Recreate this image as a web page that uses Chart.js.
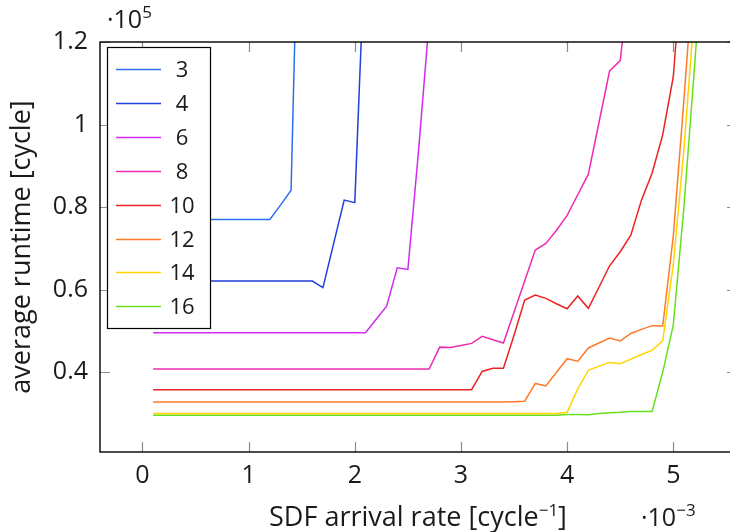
<!DOCTYPE html>
<html>
<head>
<meta charset="utf-8">
<title>Average runtime vs SDF arrival rate</title>
<script src="https://cdn.jsdelivr.net/npm/chart.js@4.4.1/dist/chart.umd.min.js"></script>
<style>
  html, body { margin: 0; padding: 0; background: #fff; overflow: hidden; }
  #wrap { width: 745px; height: 532px; }
</style>
</head>
<body>
<div id="wrap"><canvas id="runtimeChart" width="745" height="532"></canvas></div>
<script>
// SDF arrival rate, in 10^-3 per cycle (one sample every 0.1)
const rates = [
  0.1, 0.2, 0.3, 0.4, 0.5, 0.6, 0.7, 0.8, 0.9, 1.0,
  1.1, 1.2, 1.3, 1.4, 1.5, 1.6, 1.7, 1.8, 1.9, 2.0,
  2.1, 2.2, 2.3, 2.4, 2.5, 2.6, 2.7, 2.8, 2.9, 3.0,
  3.1, 3.2, 3.3, 3.4, 3.5, 3.6, 3.7, 3.8, 3.9, 4.0,
  4.1, 4.2, 4.3, 4.4, 4.5, 4.6, 4.7, 4.8, 4.9, 5.0,
  5.1, 5.2, 5.3
];

// legend labels
const widths = ['3', '4', '6', '8', '10', '12', '14', '16'];

// average runtime, in 10^5 cycles (each run stops once it leaves the top)
const runtime3 = [
  0.770, 0.770, 0.770, 0.770, 0.770, 0.770, 0.770, 0.770, 0.770, 0.770,
  0.770, 0.770, 0.805, 0.841, 1.900
];
const runtime4 = [
  0.621, 0.621, 0.621, 0.621, 0.621, 0.621, 0.621, 0.621, 0.621, 0.621,
  0.621, 0.621, 0.621, 0.621, 0.621, 0.621, 0.605, 0.711, 0.817, 0.811,
  1.460
];
const runtime6 = [
  0.496, 0.496, 0.496, 0.496, 0.496, 0.496, 0.496, 0.496, 0.496, 0.496,
  0.496, 0.496, 0.496, 0.496, 0.496, 0.496, 0.496, 0.496, 0.496, 0.496,
  0.496, 0.528, 0.560, 0.653, 0.649, 0.935, 1.250
];
const runtime8 = [
  0.408, 0.408, 0.408, 0.408, 0.408, 0.408, 0.408, 0.408, 0.408, 0.408,
  0.408, 0.408, 0.408, 0.408, 0.408, 0.408, 0.408, 0.408, 0.408, 0.408,
  0.408, 0.408, 0.408, 0.408, 0.408, 0.408, 0.408, 0.461, 0.460, 0.465,
  0.470, 0.487, 0.479, 0.471, 0.546, 0.621, 0.696, 0.712, 0.744, 0.780,
  0.830, 0.880, 1.005, 1.130, 1.155, 1.380
];
const runtime10 = [
  0.358, 0.358, 0.358, 0.358, 0.358, 0.358, 0.358, 0.358, 0.358, 0.358,
  0.358, 0.358, 0.358, 0.358, 0.358, 0.358, 0.358, 0.358, 0.358, 0.358,
  0.358, 0.358, 0.358, 0.358, 0.358, 0.358, 0.358, 0.358, 0.358, 0.358,
  0.358, 0.402, 0.410, 0.410, 0.490, 0.575, 0.587, 0.579, 0.566, 0.554,
  0.585, 0.555, 0.606, 0.658, 0.692, 0.732, 0.817, 0.882, 0.975, 1.116,
  1.450
];
const runtime12 = [
  0.328, 0.328, 0.328, 0.328, 0.328, 0.328, 0.328, 0.328, 0.328, 0.328,
  0.328, 0.328, 0.328, 0.328, 0.328, 0.328, 0.328, 0.328, 0.328, 0.328,
  0.328, 0.328, 0.328, 0.328, 0.328, 0.328, 0.328, 0.328, 0.328, 0.328,
  0.328, 0.328, 0.328, 0.328, 0.329, 0.330, 0.373, 0.367, 0.400, 0.433,
  0.427, 0.459, 0.471, 0.483, 0.476, 0.494, 0.504, 0.513, 0.512, 0.730,
  1.060, 1.410
];
const runtime14 = [
  0.300, 0.300, 0.300, 0.300, 0.300, 0.300, 0.300, 0.300, 0.300, 0.300,
  0.300, 0.300, 0.300, 0.300, 0.300, 0.300, 0.300, 0.300, 0.300, 0.300,
  0.300, 0.300, 0.300, 0.300, 0.300, 0.300, 0.300, 0.300, 0.300, 0.300,
  0.300, 0.300, 0.300, 0.300, 0.300, 0.300, 0.300, 0.300, 0.300, 0.303,
  0.360, 0.405, 0.415, 0.424, 0.421, 0.432, 0.443, 0.453, 0.476, 0.660,
  0.940, 1.280
];
const runtime16 = [
  0.296, 0.296, 0.296, 0.296, 0.296, 0.296, 0.296, 0.296, 0.296, 0.296,
  0.296, 0.296, 0.296, 0.296, 0.296, 0.296, 0.296, 0.296, 0.296, 0.296,
  0.296, 0.296, 0.296, 0.296, 0.296, 0.296, 0.296, 0.296, 0.296, 0.296,
  0.296, 0.296, 0.296, 0.296, 0.296, 0.296, 0.296, 0.296, 0.296, 0.298,
  0.298, 0.297, 0.300, 0.302, 0.303, 0.305, 0.305, 0.305, 0.400, 0.515,
  0.800, 1.140, 1.500
];

const xTicks = [0, 1, 2, 3, 4, 5];
const yTicks = [0.4, 0.6, 0.8, 1, 1.2];

const runtimes = [runtime3, runtime4, runtime6, runtime8, runtime10, runtime12, runtime14, runtime16];
const colors = ['#2a6ff0', '#2240dc', '#cf2cf0', '#ee2cb0', '#ec2222', '#ff7a2c', '#ffd500', '#66e01c'];

const FONT = '"Open Sans", "Noto Sans", sans-serif';
const TEXT = '#1a1a1a';

// frame, inward ticks, legend box, exponents and x title
const decorations = {
  id: 'decorations',
  afterDraw(chart) {
    const { ctx, chartArea: a, scales: { x, y } } = chart;
    ctx.save();

    ctx.strokeStyle = '#8c8c8c';
    ctx.lineWidth = 1.2;
    ctx.beginPath();
    xTicks.forEach(v => {
      const px = Math.round(x.getPixelForValue(v)) + 0.5;
      ctx.moveTo(px, a.bottom); ctx.lineTo(px, a.bottom - 10);
      ctx.moveTo(px, a.top); ctx.lineTo(px, a.top + 10);
    });
    yTicks.forEach(v => {
      const py = Math.round(y.getPixelForValue(v)) + 0.5;
      ctx.moveTo(a.left, py); ctx.lineTo(a.left + 10, py);
      ctx.moveTo(a.right, py); ctx.lineTo(a.right - 10, py);
    });
    ctx.stroke();

    ctx.strokeStyle = '#000';
    ctx.lineWidth = 1.4;
    ctx.strokeRect(a.left, a.top, a.right - a.left, a.bottom - a.top);

    // legend
    const lx = a.left + 7, ly = a.top + 5;
    ctx.fillStyle = '#fff';
    ctx.fillRect(lx, ly, 103, 281);
    ctx.strokeStyle = '#000';
    ctx.lineWidth = 1.2;
    ctx.strokeRect(lx + 0.5, ly + 0.5, 103, 281);
    ctx.font = '22px ' + FONT;
    ctx.textAlign = 'center';
    ctx.textBaseline = 'middle';
    chart.data.datasets.forEach((ds, i) => {
      const ry = Math.round(ly + 22 + i * 33.9) + 0.5;
      ctx.strokeStyle = ds.borderColor;
      ctx.lineWidth = 1.5;
      ctx.beginPath();
      ctx.moveTo(lx + 9, ry); ctx.lineTo(lx + 54, ry);
      ctx.stroke();
      ctx.fillStyle = TEXT;
      ctx.fillText(ds.label, lx + 75, ry + 1);
    });

    // exponent notes and x title with superscripts
    ctx.textAlign = 'left';
    ctx.textBaseline = 'alphabetic';
    const fontFor = (sup, big) => (sup ? '17px ' : (big || 25) + 'px ') + FONT;
    const withSup = (parts, x0, base, big) => {
      let cx = x0;
      parts.forEach(([txt, sup]) => {
        ctx.font = fontFor(sup, big);
        ctx.fillText(txt, cx, sup ? base - 10 : base);
        cx += ctx.measureText(txt).width;
      });
    };
    const measure = (parts, big) => parts.reduce((w, [txt, sup]) => {
      ctx.font = fontFor(sup, big);
      return w + ctx.measureText(txt).width;
    }, 0);

    ctx.fillStyle = TEXT;
    withSup([['·10', false], ['5', true]], 107, 28);
    withSup([['·10', false], ['−3', true]], 641, 526);

    const title = [['SDF arrival rate [cycle', false], ['−1', true], [']', false]];
    const tw = measure(title, 27);
    withSup(title, (a.left + 318) - tw / 2, 526, 27);

    ctx.restore();
  }
};

const ctx = document.getElementById('runtimeChart').getContext('2d');
const runtimeChart = new Chart(ctx, {
  type: 'line',
  data: {
    datasets: widths.map((w, i) => ({
      label: w,
      data: runtimes[i].map((v, j) => ({ x: rates[j], y: v })),
      borderColor: colors[i],
      borderWidth: 1.5,
      pointRadius: 0,
      tension: 0,
      fill: false
    }))
  },
  options: {
    responsive: false,
    animation: false,
    devicePixelRatio: 1,
    layout: { padding: { left: 0, right: 8, top: 42, bottom: 0 } },
    plugins: {
      legend: { display: false },
      tooltip: { enabled: false }
    },
    scales: {
      x: {
        type: 'linear',
        min: -0.4,
        max: 5.6,
        afterBuildTicks: s => { s.ticks = xTicks.map(v => ({ value: v })); },
        afterFit: s => { s.height = 80; },
        grid: { display: false },
        border: { display: false },
        ticks: {
          font: { family: FONT, size: 25 },
          color: TEXT,
          padding: 1,
          maxRotation: 0,
          callback: v => String(v)
        }
      },
      y: {
        type: 'linear',
        min: 0.207,
        max: 1.2,
        afterBuildTicks: s => { s.ticks = yTicks.map(v => ({ value: v })); },
        afterFit: s => { s.width = 100; },
        grid: { display: false },
        border: { display: false },
        ticks: {
          font: { family: FONT, size: 25 },
          color: TEXT,
          padding: 4,
          callback: v => String(v)
        },
        title: {
          display: true,
          text: 'average runtime [cycle]',
          font: { family: FONT, size: 27 },
          color: TEXT,
          padding: { top: 6, bottom: 0 }
        }
      }
    }
  },
  plugins: [decorations]
});
</script>
</body>
</html>
